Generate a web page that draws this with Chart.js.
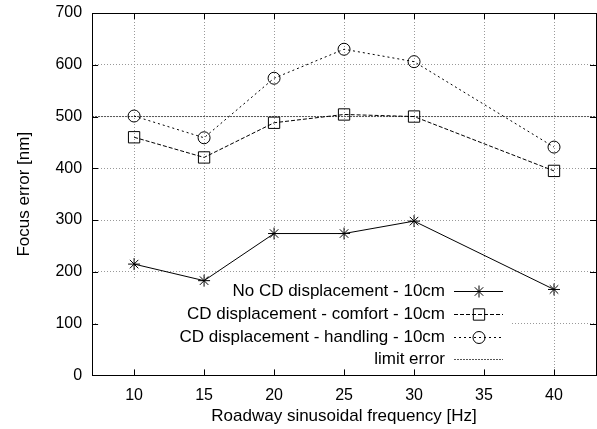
<!DOCTYPE html>
<html>
<head>
<meta charset="utf-8">
<script src="https://cdn.jsdelivr.net/npm/chart.js@4"></script>
<style>
    html, body { margin: 0; padding: 0; background: #fff; overflow: hidden; }
    /* a bit wider than the window: Chart.js keeps ~10px free on the right */
    #wrap { width: 605px; height: 429px; }
</style>
</head>
<body>
<div id="wrap"><canvas id="focusChart"></canvas></div>
<script>
// values
const frequencies = [10, 15, 20, 25, 30, 40];
const noCdError = [215, 183, 274, 274, 298, 166];
const comfortError = [460, 421, 488, 504, 500, 395];
const handlingError = [501, 459, 574, 630, 606, 441];
const limitError = 500;

const xTicks = [10, 15, 20, 25, 30, 35, 40];
const yTicks = [0, 100, 200, 300, 400, 500, 600, 700];
const xRange = [7, 43];

const FONT = '"Liberation Sans", Arial, sans-serif';

function toPoints(values) {
    return frequencies.map((f, i) => ({ x: f, y: values[i] }));
}

function noScalePadding(scale) {
    scale.paddingLeft = 0;
    scale.paddingRight = 0;
    scale.paddingTop = 0;
    scale.paddingBottom = 0;
}

// gnuplot look: white key box, frame, inward ticks, key in the lower right
const gnuplotFrame = {
    id: 'gnuplotFrame',
    beforeDatasetsDraw(chart) {
        const { ctx, chartArea: a } = chart;
        ctx.save();
        ctx.fillStyle = '#fff';
        ctx.fillRect(a.left + 4, a.bottom - 97, a.right - 85 - (a.left + 4), 96);
        ctx.restore();
    },
    afterDatasetsDraw(chart) {
        const { ctx, chartArea: a, scales } = chart;
        ctx.save();
        ctx.strokeStyle = '#000';
        ctx.lineWidth = 1;
        ctx.setLineDash([]);

        // ticks
        ctx.beginPath();
        xTicks.forEach(v => {
            const px = Math.round(scales.x.getPixelForValue(v)) + 0.5;
            ctx.moveTo(px, a.bottom); ctx.lineTo(px, a.bottom - 6);
            ctx.moveTo(px, a.top); ctx.lineTo(px, a.top + 6);
        });
        yTicks.forEach(v => {
            const py = Math.round(scales.y.getPixelForValue(v)) + 0.5;
            ctx.moveTo(a.left, py); ctx.lineTo(a.left + 6, py);
            ctx.moveTo(a.right, py); ctx.lineTo(a.right - 6, py);
        });
        ctx.stroke();

        // frame
        ctx.strokeRect(Math.round(a.left) + 0.5, Math.round(a.top) + 0.5,
            Math.round(a.right - a.left), Math.round(a.bottom - a.top));

        // key
        const textRight = a.right - 151;
        ctx.font = '17px ' + FONT;
        ctx.textAlign = 'right';
        ctx.textBaseline = 'middle';
        chart.data.datasets.forEach((ds, i) => {
            const y = Math.round(a.bottom - 84 + i * 22.6) + 0.5;
            ctx.fillStyle = '#000';
            ctx.fillText(ds.label, textRight, y);

            ctx.strokeStyle = ds.borderColor;
            ctx.setLineDash(ds.borderDash || []);
            ctx.beginPath();
            ctx.moveTo(textRight + 9, y);
            ctx.lineTo(textRight + 58, y);
            ctx.stroke();

            ctx.setLineDash([]);
            if (ds.pointRadius > 0) {
                ctx.strokeStyle = '#000';
                ctx.fillStyle = 'rgba(0,0,0,0)';
                Chart.helpers.drawPoint(ctx, {
                    pointStyle: ds.pointStyle,
                    radius: ds.pointRadius,
                    rotation: 0,
                    borderWidth: 1
                }, textRight + 34, y);
            }
        });
        ctx.restore();
    }
};

const ctx = document.getElementById('focusChart').getContext('2d');

new Chart(ctx, {
    type: 'line',
    data: {
        datasets: [
            {
                label: 'No CD displacement - 10cm',
                data: toPoints(noCdError),
                borderColor: '#000',
                borderWidth: 1,
                pointStyle: 'star',
                pointRadius: 6,
                pointBorderColor: '#000',
                pointBackgroundColor: 'rgba(0,0,0,0)',
                pointBorderWidth: 1
            },
            {
                label: 'CD displacement - comfort - 10cm',
                data: toPoints(comfortError),
                borderColor: '#000',
                borderWidth: 1,
                borderDash: [4, 2],
                pointStyle: 'rect',
                pointRadius: 8,
                pointBorderColor: '#000',
                pointBackgroundColor: 'rgba(0,0,0,0)',
                pointBorderWidth: 1
            },
            {
                label: 'CD displacement - handling - 10cm',
                data: toPoints(handlingError),
                borderColor: '#000',
                borderWidth: 1,
                borderDash: [2, 3],
                pointStyle: 'circle',
                pointRadius: 6,
                pointBorderColor: '#000',
                pointBackgroundColor: 'rgba(0,0,0,0)',
                pointBorderWidth: 1
            },
            {
                label: 'limit error',
                data: [{ x: xRange[0], y: limitError }, { x: xRange[1], y: limitError }],
                borderColor: '#555',
                borderWidth: 1,
                borderDash: [2, 1],
                pointRadius: 0
            }
        ]
    },
    options: {
        responsive: true,
        maintainAspectRatio: false,
        animation: false,
        devicePixelRatio: 1,
        layout: { padding: { top: 13, right: 2, bottom: 2, left: 0 } },
        plugins: {
            legend: { display: false },
            tooltip: { enabled: false }
        },
        scales: {
            x: {
                type: 'linear',
                min: xRange[0],
                max: xRange[1],
                afterBuildTicks: scale => { scale.ticks = xTicks.map(v => ({ value: v })); },
                afterFit: noScalePadding,
                ticks: { color: '#000', font: { family: FONT, size: 16 }, padding: 11, maxRotation: 0 },
                grid: { color: '#999', drawTicks: false },
                border: { display: false, dash: [1, 2] },
                title: {
                    display: true,
                    text: 'Roadway sinusoidal frequency [Hz]',
                    color: '#000',
                    font: { family: FONT, size: 17 },
                    padding: { top: -10, bottom: 0 }
                }
            },
            y: {
                min: 0,
                max: 700,
                afterBuildTicks: scale => { scale.ticks = yTicks.map(v => ({ value: v })); },
                afterFit: noScalePadding,
                ticks: { color: '#000', font: { family: FONT, size: 16 }, padding: 10 },
                grid: { color: '#999', drawTicks: false },
                border: { display: false, dash: [1, 2] },
                title: {
                    display: true,
                    text: 'Focus error [nm]',
                    color: '#000',
                    font: { family: FONT, size: 17 },
                    padding: { top: 14, bottom: 11 }
                }
            }
        }
    },
    plugins: [gnuplotFrame]
});
</script>
</body>
</html>
